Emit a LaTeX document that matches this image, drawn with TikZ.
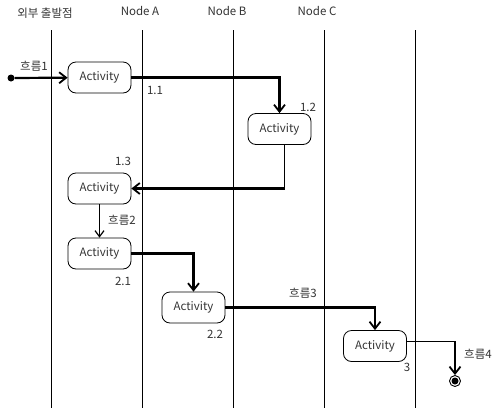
\documentclass[tikz,border=0pt]{standalone}
\usepackage{fontspec}
\setmainfont{Noto Sans CJK KR}
\usetikzlibrary{arrows.meta,positioning}

\begin{document}
\begin{tikzpicture}[x=1pt,y=-1pt,
  act/.style={rectangle, draw, rounded corners=8pt,
              minimum width=63pt, minimum height=31pt,
              font=\fontsize{11.5}{13}\selectfont, text=black!80, line width=0.8pt},
  flow/.style={-{Straight Barb[length=7pt,width=11pt,line width=1.8pt]}, line width=2.2pt},
  thinflow/.style={-{Straight Barb[length=6pt,width=9pt,line width=1.2pt]}, line width=1.4pt},
  lbl/.style={font=\fontsize{11.5}{13}\selectfont, text=black!80, inner sep=0pt},
  lane/.style={line width=0.8pt}
]
  \useasboundingbox (0,0) rectangle (504,408);

  % swimlane headers and lines
  \node[lbl] (hext) at (45,13)  {외부 출발점};
  \node[lbl] (hna)  at (140,11) {Node A};
  \node[lbl] (hnb)  at (227,11) {Node B};
  \node[lbl] (hnc)  at (317,11) {Node C};
  \foreach \x in {51,142,233,324,415}
    \draw[lane] (\x,30) -- (\x,408);

  % activities
  \node[act] (a11) at (99.5,77.5)  {Activity};
  \node[act] (a12) at (279.5,129)  {Activity};
  \node[act] (a13) at (99.5,188.5) {Activity};
  \node[act] (a21) at (99.5,253.5) {Activity};
  \node[act] (a22) at (193.5,307.5) {Activity};
  \node[act] (a3)  at (375,346)    {Activity};

  % start / end
  \node[circle, fill, inner sep=0pt, minimum size=7pt] (start) at (11,78) {};
  \node[circle, draw, line width=0.9pt, inner sep=0pt, minimum size=11pt] (end) at (455,381) {};
  \fill (end) circle (3.5pt);

  % bends
  \coordinate (b12) at ([xshift=5pt]a12.south |- a13);
  \coordinate (b3)  at ([yshift=5pt]a3.east -| end);

  % flows
  \draw[flow] (start) -- (a11);
  \draw[flow] (a11) -| (a12);
  \draw[lane] ([xshift=5pt]a12.south) -- (b12);
  \draw[flow] (b12) -- (a13);
  \draw[thinflow] (a13) -- (a21);
  \draw[flow] (a21) -| (a22);
  \draw[flow] (a22) -| (a3);
  \draw[lane] ([yshift=5pt]a3.east) -- (b3);
  \draw[flow] (b3) -- (end);

  % labels
  \node[lbl] (l1)  at (34,66)   {흐름1};
  \node[lbl] (n11) at (155,90)  {1.1};
  \node[lbl] (n12) at (308,107) {1.2};
  \node[lbl] (n13) at (123,161) {1.3};
  \node[lbl] (l2)  at (122,220) {흐름2};
  \node[lbl] (n21) at (123,281) {2.1};
  \node[lbl] (l3)  at (303,293) {흐름3};
  \node[lbl] (n22) at (215,334) {2.2};
  \node[lbl] (n3)  at (407,367) {3};
  \node[lbl] (l4)  at (478,354) {흐름4};
\end{tikzpicture}
\end{document}
